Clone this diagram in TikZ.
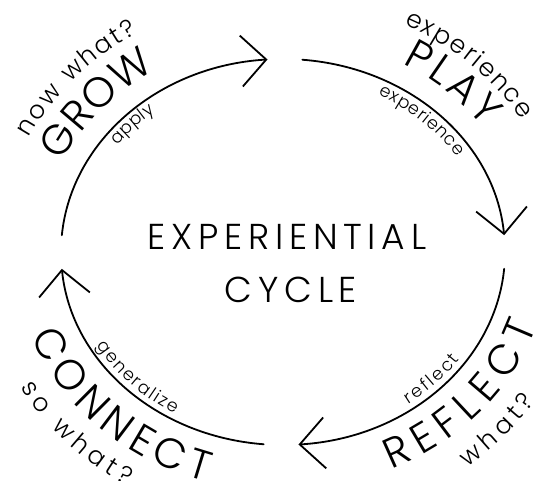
\documentclass[tikz,border=0pt]{standalone}
\usepackage{fontspec}
\setmainfont{Poppins Light}
\usetikzlibrary{arrows.meta,decorations.text}
\definecolor{ink}{HTML}{000000}
\newcommand{\bigtxt}{\fontsize{42}{42}\selectfont}
\newcommand{\outtxt}{\fontsize{25}{25}\selectfont}
\newcommand{\intxt}{\fontsize{17.5}{17.5}\selectfont}
\tikzset{
  cyclearc/.style={draw=ink, line width=1.8pt, line cap=round, -{Straight Barb[length=25pt,width=51pt]}},
  title/.style={text=ink, inner sep=0pt, font=\fontsize{36}{36}\selectfont\addfontfeature{LetterSpace=16}},
}
% text along the ring: start angle, end angle, offset, font, text
\newcommand{\ringtext}[5]{%
  \path[decorate, decoration={text along path, text align={fit to path}, text={|#4|#5}}]
    (ctr) ++(#1:{(222+(#3))*1pt} and {(193+(#3))*1pt})
    arc[start angle=#1, end angle=#2, x radius={(222+(#3))*1pt}, y radius={(193+(#3))*1pt}];
}
\begin{document}
\begin{tikzpicture}[x=1pt,y=1pt]
  \useasboundingbox (0,0) rectangle (548,481);
  \coordinate (ctr) at (283,229);
  \foreach \a/\b in {175/94, 85/5, -5/-86, -95/-175}
    \draw[cyclearc] (ctr) ++(\a:222pt and 193pt)
      arc[start angle=\a, end angle=\b, x radius=222pt, y radius=193pt];
  \node[title, anchor=base] (exper) at (287,231) {EXPERIENTIAL};
  \node[title, anchor=base] (cycle) at (291,178) {CYCLE};
  % grow
  \ringtext{155.2}{121.7}{21}{\bigtxt}{GROW}
  \ringtext{153.4}{120.8}{62}{\outtxt}{now what?}
  \ringtext{143.1}{128.2}{-15}{\intxt}{apply}
  % play
  \ringtext{60.8}{35.1}{23}{\bigtxt}{PLAY}
  \ringtext{64.5}{31.7}{59}{\outtxt}{experience}
  \ringtext{62.5}{32.5}{-16}{\intxt}{experience}
  % reflect
  \ringtext{-66}{-18.1}{45}{\bigtxt}{REFLECT}
  \ringtext{-52.2}{-33.2}{79}{\outtxt}{what?}
  \ringtext{-54.4}{-35}{-6}{\intxt}{reflect}
  % connect
  \ringtext{200.6}{253.4}{47}{\bigtxt}{CONNECT}
  \ringtext{209.7}{238.8}{80}{\outtxt}{so what?}
  \ringtext{210}{240}{-6.5}{\intxt}{generalize}
\end{tikzpicture}
\end{document}
